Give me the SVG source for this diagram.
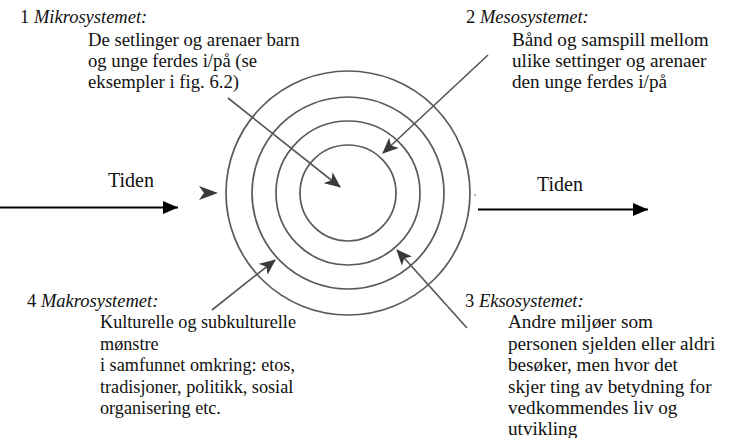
<svg xmlns="http://www.w3.org/2000/svg" width="738" height="438" viewBox="0 0 738 438">
<style>
text{font-family:"Liberation Serif","Times New Roman",serif;font-size:18.7px;fill:#111}
.hd{font-size:18.5px}
.it{font-style:italic}
.big{font-size:20px}
#meso .b{font-size:19.2px}
#ekso .b{font-size:19.2px}
#makro .b{font-size:18.2px}
.ring{fill:none;stroke:#5a5a5a;stroke-width:1.7}
.ptr{stroke:#555;stroke-width:1.6;fill:none}
.time{stroke:#000;stroke-width:2;fill:none}
</style>
<defs>
<marker id="ah" viewBox="0 0 16 14" refX="15" refY="7" markerWidth="16" markerHeight="14" markerUnits="userSpaceOnUse" orient="auto">
<path d="M0,0 L16,7 L0,14 L4,7 Z" fill="#3a3a3a"/>
</marker>
<marker id="ta" viewBox="0 0 15 13" refX="15" refY="6.5" markerWidth="15" markerHeight="13" markerUnits="userSpaceOnUse" orient="auto">
<path d="M0,0 L15,6.5 L0,13 Z" fill="#000"/>
</marker>
</defs>
<rect width="738" height="438" fill="#fff"/>
<g id="rings">
<circle class="ring" cx="348" cy="193" r="122"/>
<circle class="ring" cx="348" cy="193" r="96"/>
<circle class="ring" cx="348" cy="193" r="72"/>
<circle class="ring" cx="348" cy="193" r="48"/>
<path d="M199,186 L218,193 L199,200 L204,193 Z" fill="#3a3a3a"/>
<circle cx="475" cy="195" r="1" fill="#999"/>
</g>
<g id="connectors">
<line class="ptr" x1="228" y1="98" x2="340" y2="187" marker-end="url(#ah)"/>
<line class="ptr" x1="488" y1="55" x2="383" y2="153" marker-end="url(#ah)"/>
<line class="ptr" x1="467" y1="328" x2="397" y2="250" marker-end="url(#ah)"/>
<line class="ptr" x1="212" y1="310" x2="275" y2="260" marker-end="url(#ah)"/>
<line class="time" x1="0" y1="207.5" x2="178" y2="207.5" marker-end="url(#ta)"/>
<line class="time" x1="478" y1="209.5" x2="648" y2="209.5" marker-end="url(#ta)"/>
</g>
<g id="tiden-left"><text class="big" x="108" y="187">Tiden</text></g>
<g id="tiden-right"><text class="big" x="537" y="191">Tiden</text></g>
<g id="mikro">
<text class="hd" x="20" y="23">1 <tspan class="it">Mikrosystemet:</tspan></text>
<text x="88" y="46">De setlinger og arenaer barn</text>
<text x="88" y="67">og unge ferdes i/på (se</text>
<text x="88" y="88">eksempler i fig. 6.2)</text>
</g>
<g id="meso">
<text class="hd" x="466" y="23">2 <tspan class="it">Mesosystemet:</tspan></text>
<text class="b" x="512" y="46">Bånd og samspill mellom</text>
<text class="b" x="512" y="67">ulike settinger og arenaer</text>
<text class="b" x="512" y="88">den unge ferdes i/på</text>
</g>
<g id="makro">
<text class="hd" x="27" y="307">4 <tspan class="it">Makrosystemet:</tspan></text>
<text class="b" x="100" y="328">Kulturelle og subkulturelle</text>
<text class="b" x="100" y="349.5">mønstre</text>
<text class="b" x="100" y="371">i samfunnet omkring: etos,</text>
<text class="b" x="100" y="392.5">tradisjoner, politikk, sosial</text>
<text class="b" x="100" y="414">organisering etc.</text>
</g>
<g id="ekso">
<text class="hd" x="465" y="307">3 <tspan class="it">Eksosystemet:</tspan></text>
<text class="b" x="508" y="328">Andre miljøer som</text>
<text class="b" x="508" y="349.5">personen sjelden eller aldri</text>
<text class="b" x="508" y="371">besøker, men hvor det</text>
<text class="b" x="508" y="392.5">skjer ting av betydning for</text>
<text class="b" x="508" y="414">vedkommendes liv og</text>
<text class="b" x="508" y="435">utvikling</text>
</g>
</svg>
